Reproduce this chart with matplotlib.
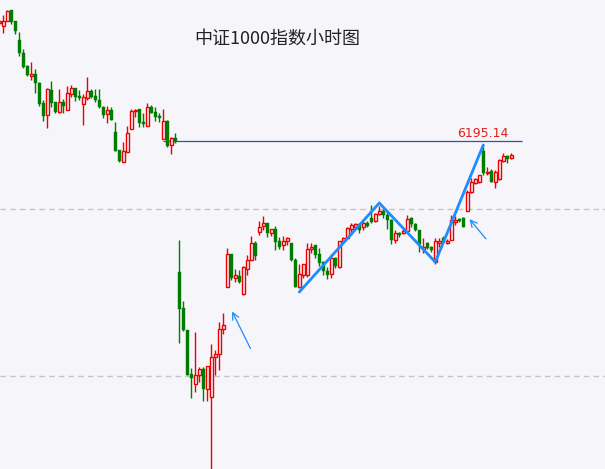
import numpy as np
import matplotlib
matplotlib.use("Agg")
import matplotlib.pyplot as plt

plt.rcParams['font.family'] = ['Noto Sans CJK SC', 'DejaVu Sans']

# hourly candles
opens = [6313, 6310, 6315, 6326, 6315, 6296, 6283, 6270, 6260, 6262,
         6253, 6233, 6221, 6246, 6234, 6224, 6234, 6226, 6242, 6248,
         6240, 6232, 6238, 6245, 6240, 6236, 6229, 6222, 6226, 6204,
         6186, 6174, 6184, 6207, 6225, 6227, 6214, 6210, 6229, 6224,
         6220, 6197, 6215, 6191, 6198, 6064, 6028, 6006, 5962, 5952,
         5961, 5967, 5947, 5939, 5979, 5982, 6007, 6049, 6082, 6058,
         6060, 6042, 6067, 6076, 6093, 6104, 6110, 6113, 6103, 6107,
         6095, 6091, 6095, 6093, 6076, 6049, 6061, 6061, 6087, 6091,
         6082, 6074, 6065, 6062, 6078, 6069, 6095, 6098, 6107, 6109,
         6112, 6109, 6113, 6118, 6115, 6122, 6125, 6121, 6116, 6096,
         6103, 6103, 6105, 6118, 6112, 6106, 6087, 6093, 6089, 6074,
         6093, 6098, 6093, 6096, 6114, 6117, 6118, 6125, 6144, 6153,
         6154, 6185, 6163, 6165, 6154, 6157, 6175, 6180, 6178]
highs = [6316, 6321, 6326, 6326, 6315, 6304, 6287, 6271, 6274, 6267,
         6254, 6236, 6248, 6255, 6234, 6247, 6237, 6250, 6251, 6248,
         6246, 6242, 6259, 6247, 6247, 6247, 6230, 6230, 6229, 6214,
         6186, 6194, 6210, 6227, 6227, 6227, 6223, 6233, 6231, 6229,
         6223, 6227, 6216, 6199, 6203, 6096, 6035, 6006, 5968, 6004,
         5969, 5969, 5970, 5992, 5986, 6014, 6023, 6088, 6082, 6067,
         6066, 6070, 6081, 6100, 6095, 6115, 6120, 6113, 6107, 6110,
         6099, 6100, 6099, 6093, 6078, 6072, 6072, 6093, 6093, 6091,
         6088, 6075, 6069, 6082, 6079, 6095, 6099, 6109, 6113, 6113,
         6113, 6117, 6115, 6131, 6123, 6130, 6127, 6124, 6117, 6106,
         6104, 6109, 6121, 6119, 6113, 6106, 6098, 6094, 6090, 6098,
         6098, 6100, 6097, 6121, 6120, 6118, 6119, 6146, 6158, 6158,
         6161, 6191, 6169, 6167, 6166, 6177, 6183, 6181, 6183]
lows = [6312, 6303, 6315, 6312, 6302, 6280, 6268, 6260, 6256, 6243,
        6230, 6215, 6208, 6229, 6223, 6223, 6223, 6226, 6239, 6235,
        6236, 6211, 6236, 6238, 6234, 6228, 6218, 6213, 6216, 6185,
        6174, 6174, 6184, 6207, 6219, 6209, 6209, 6210, 6223, 6215,
        6214, 6197, 6189, 6182, 6193, 5993, 6005, 5961, 5938, 5944,
        5954, 5935, 5935, 5860, 5961, 5966, 6002, 6049, 6056, 6054,
        6053, 6041, 6061, 6076, 6076, 6101, 6106, 6099, 6100, 6086,
        6087, 6086, 6091, 6075, 6049, 6048, 6058, 6059, 6083, 6078,
        6070, 6061, 6057, 6058, 6068, 6068, 6094, 6097, 6101, 6107,
        6103, 6106, 6109, 6113, 6114, 6121, 6118, 6107, 6092, 6093,
        6099, 6102, 6105, 6109, 6105, 6084, 6083, 6087, 6084, 6072,
        6089, 6093, 6092, 6096, 6111, 6114, 6109, 6125, 6143, 6152,
        6153, 6161, 6161, 6154, 6148, 6156, 6174, 6173, 6177]
closes = [6315, 6315, 6325, 6314, 6305, 6283, 6269, 6261, 6262, 6253,
          6232, 6220, 6247, 6233, 6224, 6234, 6230, 6243, 6248, 6239,
          6238, 6239, 6245, 6239, 6236, 6229, 6221, 6226, 6216, 6185,
          6175, 6185, 6203, 6225, 6226, 6213, 6212, 6229, 6223, 6219,
          6218, 6215, 6190, 6198, 6195, 6027, 6006, 5961, 5958, 5961,
          5967, 5947, 5970, 5979, 5982, 6007, 6011, 6082, 6058, 6061,
          6054, 6069, 6076, 6093, 6080, 6109, 6113, 6103, 6107, 6094,
          6089, 6095, 6098, 6076, 6049, 6062, 6072, 6087, 6089, 6081,
          6073, 6065, 6061, 6078, 6070, 6095, 6098, 6108, 6111, 6112,
          6106, 6113, 6110, 6114, 6122, 6125, 6121, 6116, 6096, 6103,
          6101, 6105, 6117, 6112, 6106, 6092, 6089, 6088, 6086, 6095,
          6095, 6094, 6095, 6116, 6116, 6115, 6109, 6144, 6154, 6157,
          6161, 6163, 6164, 6154, 6164, 6176, 6180, 6177, 6181]

level = 6195.14
grid_levels = [6127, 5960]
# hand-drawn zigzag: (bar index, price)
zig_x = [75, 95, 109, 121]
zig_y = [6044, 6133, 6074, 6191]
# arrows: (tip, tail)
arrows = [((57.9, 6027), (63.1, 5985)), ((117.1, 6119), (122.1, 6095))]

bg = '#f5f5fa'
up_c = '#ee0000'
dn_c = '#007d00'
blue = '#1e8cff'

fig = plt.figure(figsize=(6.05, 4.69), dpi=100, facecolor=bg)
ax = fig.add_axes([0, 0, 1, 1], facecolor=bg)

o = np.array(opens); h = np.array(highs); l = np.array(lows); c = np.array(closes)
x = np.arange(len(o))
up = c >= o
cols = np.where(up, up_c, dn_c)

for lv in grid_levels:
    ax.axhline(lv, color='#c4c4c8', lw=1, dashes=(4, 3), zorder=1)

ax.vlines(x, l, h, colors=cols, lw=1, zorder=2)
body_lo = np.minimum(o, c)
body_h = np.maximum(np.abs(c - o), 1.5)
ax.bar(x[up], body_h[up], bottom=body_lo[up], width=0.7, facecolor=bg,
       edgecolor=up_c, lw=1.0, zorder=3)
ax.bar(x[~up], body_h[~up], bottom=body_lo[~up], width=0.8, facecolor=dn_c,
       edgecolor=dn_c, lw=0.3, zorder=3)

ax.hlines(level, 40.9, 130.7, color='#34568a', lw=0.9, zorder=2)
ax.text(120.8, level + 0.5, f'{level:.2f}', color='#e02020', fontsize=9,
        ha='center', va='bottom', family=['DejaVu Sans'])

ax.plot(zig_x, zig_y, color=blue, lw=2.0, zorder=4, solid_capstyle='round')
for tip, tail in arrows:
    ax.annotate('', xy=tip, xytext=tail,
                arrowprops=dict(arrowstyle='->', color=blue, lw=0.9,
                                mutation_scale=12))

fig.text(0.459, 0.917, '中证1000指数小时图', fontsize=13, color='#222222',
         ha='center', va='center')

ax.set_xlim(0.175, 151.425)
ax.set_ylim(5867, 6336)
ax.axis('off')

fig.savefig('out.png', dpi=100, facecolor=bg)
